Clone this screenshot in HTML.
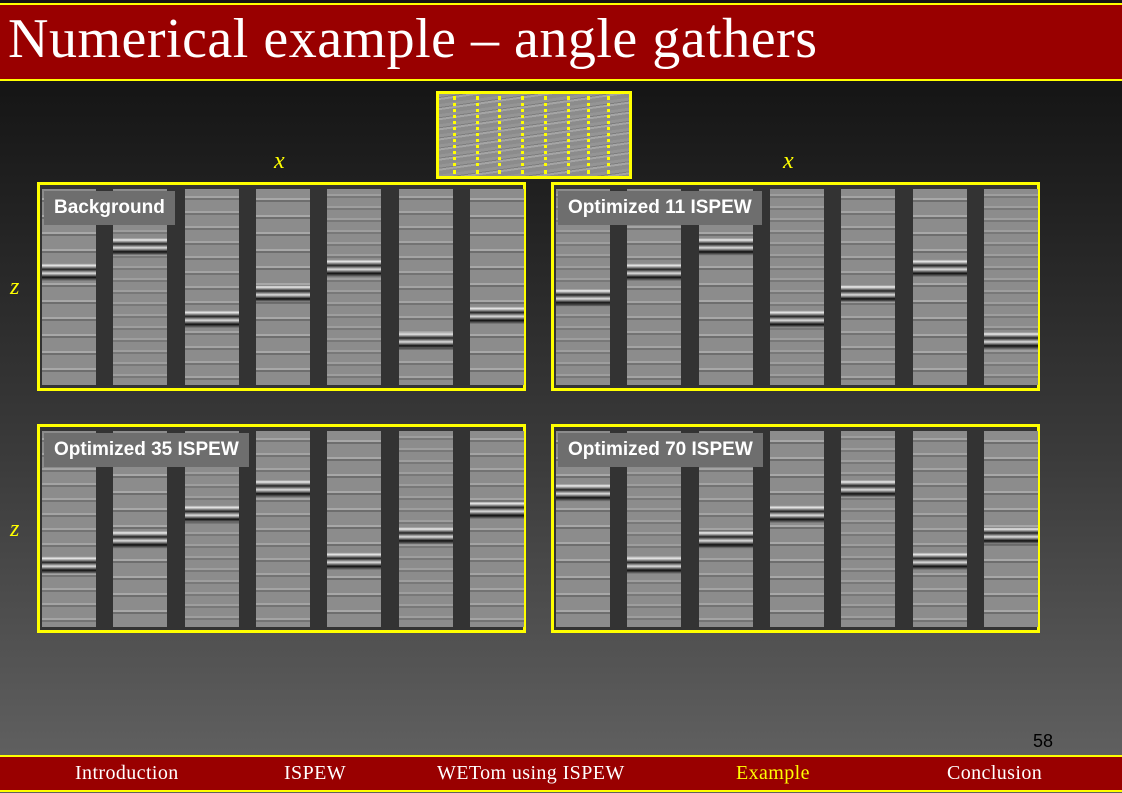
<!DOCTYPE html>
<html><head><meta charset="utf-8">
<style>
body{margin:0;width:1122px;height:793px;overflow:hidden;position:relative;font-family:"Liberation Sans",sans-serif;
background:linear-gradient(#141414 0px,#161616 90px,#3a3a3a 450px,#606060 760px);}
.hdr{position:absolute;left:0;top:3px;width:1122px;height:74px;background:#990000;border-top:2px solid #ff0;border-bottom:2px solid #ff0;}
.hdr span{position:absolute;left:8px;top:2px;font-family:"Liberation Serif",serif;font-size:56px;color:#fff;letter-spacing:0.5px;}
.ftr{position:absolute;left:0;top:755px;width:1122px;height:33px;background:#990000;border-top:2px solid #ff0;border-bottom:2px solid #ff0;}
.ftr span{position:absolute;top:5px;font-family:"Liberation Serif",serif;font-size:20px;color:#fff;letter-spacing:0.4px;}
.pn{position:absolute;width:483px;height:203px;border:3px solid #ff0;background:#333;}
.col{position:absolute;top:4px;width:54px;height:196px;background:#8a8a8a;}
.lab{position:absolute;background:#6e6e6e;color:#fff;font-weight:bold;font-size:19px;padding:0 10px;height:34px;line-height:34px;top:6px;}
.ax{position:absolute;color:#ff0;font-family:"Liberation Serif",serif;font-style:italic;font-size:24px;}
.thumb{position:absolute;left:436px;top:91px;width:190px;height:82px;border:3px solid #ff0;
background:repeating-linear-gradient(172deg,#959595 0 3px,#7d7d7d 3px 4px,#a5a5a5 4px 6px,#8c8c8c 6px 10px);}
.dl{position:absolute;top:2px;height:78px;border-left:3px dotted #ff0;}
</style></head><body>
<div class="hdr"><span>Numerical example – angle gathers</span></div>
<div class="thumb">
<div class="dl" style="left:14px"></div><div class="dl" style="left:37px"></div><div class="dl" style="left:59px"></div><div class="dl" style="left:82px"></div><div class="dl" style="left:105px"></div><div class="dl" style="left:128px"></div><div class="dl" style="left:148px"></div><div class="dl" style="left:168px"></div>
</div>
<div class="ax" style="left:274px;top:148px">x</div>
<div class="ax" style="left:783px;top:148px">x</div>
<div class="ax" style="left:10px;top:274px">z</div>
<div class="ax" style="left:10px;top:516px">z</div>

<div class="pn" id="p1" style="left:37px;top:182px"></div>
<div class="pn" id="p2" style="left:551px;top:182px"></div>
<div class="pn" id="p3" style="left:37px;top:424px"></div>
<div class="pn" id="p4" style="left:551px;top:424px"></div>

<div style="position:absolute;left:1033px;top:731px;font-size:18px;color:#000">58</div>
<div class="ftr">
<span style="left:75px">Introduction</span>
<span style="left:284px">ISPEW</span>
<span style="left:437px">WETom using ISPEW</span>
<span style="left:736px;color:#ff0">Example</span>
<span style="left:947px">Conclusion</span>
</div>
<script>
var labels=["Background","Optimized 11 ISPEW","Optimized 35 ISPEW","Optimized 70 ISPEW"];
var pats=[
"repeating-linear-gradient(#8c8c8c 0 7px,#a4a4a4 7px 9px,#737373 9px 11px,#8c8c8c 11px 15px)",
"repeating-linear-gradient(#8c8c8c 0 9px,#a8a8a8 9px 11px,#6e6e6e 11px 13px,#8c8c8c 13px 17px)",
"repeating-linear-gradient(#8c8c8c 0 5px,#9e9e9e 5px 7px,#787878 7px 9px,#8c8c8c 9px 12px)"];
for(var p=1;p<=4;p++){
 var el=document.getElementById('p'+p),h='';
 for(var i=0;i<7;i++){
  var bg=pats[(i+p)%3];
  var o=(i*37+p*13)%50;
  var band='linear-gradient(transparent '+(25+o)+'%,#eee '+(26+o)+'%,#222 '+(28+o)+'%,#ddd '+(30+o)+'%,#111 '+(32+o)+'%,transparent '+(34+o)+'%),';
  h+='<div class="col" style="left:'+(Math.round(2+i*71.3))+'px;background:'+band+bg+'"></div>';
 }
 h+='<div class="lab" style="left:4px">'+labels[p-1]+'</div>';
 el.innerHTML=h;
}
</script>
</body></html>
